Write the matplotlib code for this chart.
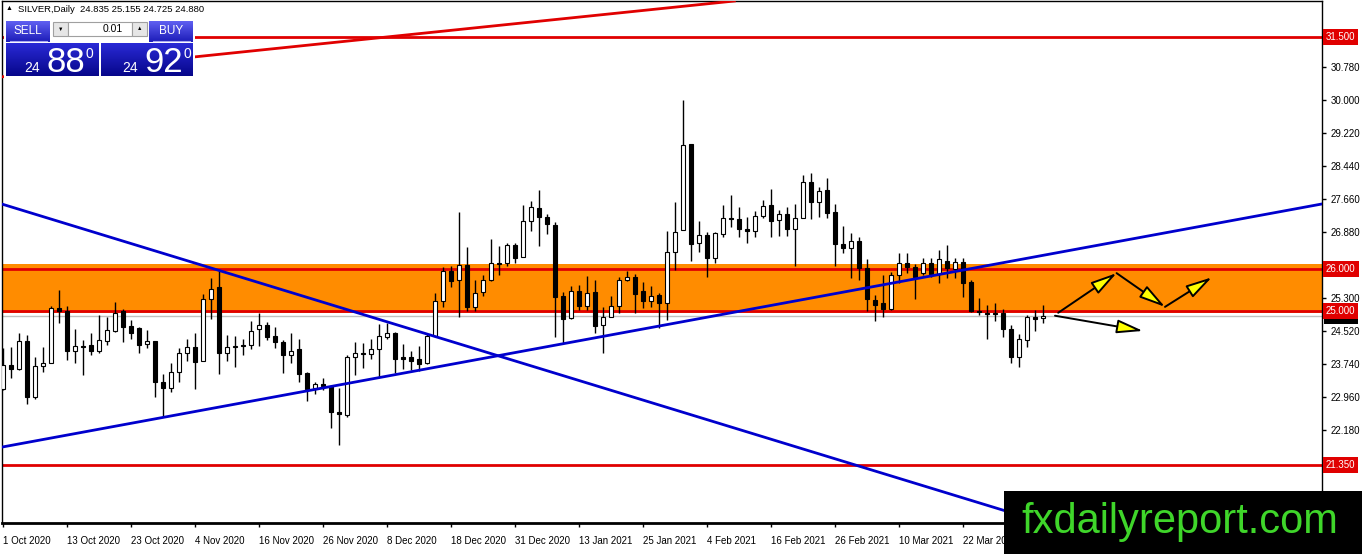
import numpy as np
import pandas as pd
import matplotlib
matplotlib.use('Agg')
import matplotlib.pyplot as plt
from matplotlib.patches import Rectangle, FancyArrowPatch
from matplotlib.colors import LinearSegmentedColormap

plt.rcParams['font.family'] = ['Liberation Sans', 'DejaVu Sans']

# daily OHLC, SILVER (1 Oct 2020 .. 5 Apr 2021)
opens = [23.15, 23.72, 23.63, 24.29, 22.96, 23.70, 23.77, 25.07, 25.00, 24.05,
         24.17, 24.20, 24.05, 24.29, 24.53, 25.00, 24.65, 24.60, 24.22, 24.29,
         23.32, 23.18, 23.56, 24.01, 24.15, 23.82, 25.29, 25.57, 24.01, 24.15,
         24.20, 24.20, 24.58, 24.67, 24.41, 24.27, 23.96, 24.10, 23.53, 23.18,
         23.27, 23.22, 22.61, 22.54, 23.91, 24.01, 23.98, 24.10, 24.39, 24.48,
         23.91, 23.91, 23.86, 23.77, 24.41, 25.24, 25.95, 25.74, 26.09, 25.10,
         25.45, 25.74, 26.14, 26.14, 26.57, 26.28, 27.14, 27.45, 27.23, 27.04,
         25.36, 24.84, 25.48, 25.12, 25.45, 24.67, 24.86, 25.12, 25.74, 25.81,
         25.48, 25.24, 25.38, 25.19, 26.40, 26.92, 28.96, 26.61, 26.80, 26.26,
         26.83, 27.21, 27.18, 26.95, 26.90, 27.25, 27.52, 27.16, 27.30, 26.95,
         27.21, 28.06, 27.59, 27.87, 27.35, 26.59, 26.50, 26.66, 26.02, 25.26,
         25.19, 25.05, 25.86, 26.14, 26.05, 25.90, 26.14, 25.88, 26.19, 26.00,
         26.16, 25.69, 25.00, 24.95, 24.95, 24.95, 24.58, 23.91, 24.31, 24.86,
         24.835]
highs = [24.13, 24.15, 24.48, 24.43, 23.91, 24.15, 25.12, 25.50, 25.12, 24.58,
         24.31, 24.48, 24.91, 24.86, 25.22, 25.05, 24.79, 24.62, 24.55, 24.29,
         23.51, 23.77, 24.13, 24.34, 24.48, 25.41, 25.78, 25.95, 24.43, 24.41,
         24.34, 24.77, 24.95, 24.74, 24.62, 24.31, 24.48, 24.34, 23.56, 23.32,
         23.41, 23.25, 23.18, 23.96, 24.27, 24.24, 24.34, 24.69, 24.72, 24.50,
         24.22, 24.05, 24.17, 24.46, 25.43, 26.05, 26.07, 27.35, 26.52, 25.74,
         25.86, 26.71, 26.54, 26.61, 26.61, 27.52, 27.61, 27.87, 27.30, 27.11,
         25.45, 25.60, 25.62, 25.83, 25.74, 25.10, 25.36, 25.81, 25.95, 25.88,
         25.69, 25.60, 25.43, 26.90, 27.59, 30.01, 28.96, 27.14, 26.88, 26.88,
         27.52, 27.75, 27.47, 27.23, 27.37, 27.63, 27.90, 27.40, 27.47, 27.54,
         28.23, 28.28, 27.94, 28.16, 27.54, 27.02, 26.85, 26.76, 26.24, 25.38,
         25.86, 25.93, 26.38, 26.38, 26.12, 26.26, 26.26, 26.45, 26.57, 26.26,
         26.26, 25.74, 25.31, 25.14, 25.19, 25.05, 24.67, 24.46, 24.91, 25.03,
         25.155]
lows = [23.13, 23.41, 23.60, 22.80, 22.91, 23.56, 23.77, 24.72, 23.84, 23.77,
        23.49, 23.96, 24.01, 24.20, 24.50, 24.27, 24.34, 24.01, 24.13, 22.96,
        22.49, 23.08, 23.32, 23.82, 23.15, 23.82, 24.81, 23.51, 23.82, 23.67,
        23.96, 24.10, 24.17, 24.31, 24.13, 23.53, 23.77, 23.32, 22.87, 23.03,
        23.13, 22.23, 21.82, 22.49, 23.49, 23.65, 23.86, 23.44, 24.34, 23.53,
        23.63, 23.60, 23.58, 23.75, 24.39, 25.10, 25.57, 24.86, 25.00, 25.00,
        25.36, 25.71, 25.86, 26.07, 26.14, 26.28, 26.90, 26.54, 26.83, 24.39,
        24.24, 24.81, 25.03, 25.03, 24.48, 24.01, 24.86, 24.95, 25.71, 24.95,
        25.07, 25.10, 24.60, 24.79, 25.97, 26.92, 26.19, 26.40, 25.81, 26.14,
        26.76, 26.99, 26.76, 26.61, 26.76, 27.21, 26.76, 26.78, 26.78, 26.07,
        27.21, 27.18, 27.23, 27.21, 26.07, 26.38, 25.78, 25.74, 25.00, 24.77,
        24.86, 25.03, 25.67, 25.90, 25.29, 25.86, 25.81, 25.67, 25.78, 25.78,
        25.33, 24.98, 24.91, 24.34, 24.77, 24.39, 23.77, 23.67, 24.15, 24.53,
        24.725]
closes = [23.72, 23.63, 24.29, 22.96, 23.70, 23.77, 25.07, 25.00, 24.05, 24.17,
          24.15, 24.05, 24.31, 24.55, 24.95, 24.62, 24.48, 24.20, 24.29, 23.32,
          23.18, 23.56, 24.01, 24.15, 23.79, 25.29, 25.52, 24.01, 24.15, 24.17,
          24.17, 24.53, 24.67, 24.39, 24.27, 23.96, 24.05, 23.51, 23.15, 23.27,
          23.22, 22.61, 22.56, 23.91, 24.01, 23.98, 24.10, 24.41, 24.48, 23.86,
          23.86, 23.82, 23.75, 24.41, 25.24, 25.95, 25.71, 26.09, 25.10, 25.43,
          25.74, 26.14, 26.12, 26.57, 26.26, 27.14, 27.47, 27.23, 27.07, 25.33,
          24.81, 25.48, 25.12, 25.43, 24.65, 24.86, 25.12, 25.74, 25.81, 25.41,
          25.24, 25.36, 25.19, 26.40, 26.88, 28.94, 26.59, 26.80, 26.26, 26.85,
          27.21, 27.18, 26.95, 26.90, 27.25, 27.49, 27.14, 27.30, 26.95, 27.21,
          28.06, 27.59, 27.85, 27.33, 26.59, 26.50, 26.66, 26.02, 25.29, 25.14,
          25.05, 25.86, 26.14, 26.05, 25.81, 26.14, 25.88, 26.24, 26.02, 26.16,
          25.67, 25.00, 24.98, 24.93, 24.93, 24.58, 23.91, 24.34, 24.86, 24.81,
          24.88]

dates = pd.bdate_range('2020-10-01', '2021-04-05', freq='C',
                       holidays=['2020-12-25', '2021-01-01'])

# chart objects
red_levels = [31.5, 26.0, 25.0, 21.35]
zone = (24.96, 26.12)
bid, ask = 24.880, 24.920
red_trend = [(-0.375, 30.55), (90.25, 32.33)]
blue_down = [(0, 27.53), (125, 20.28)]
blue_up = [(0, 21.78), (160, 27.37)]
arrows = [((131.9, 24.96), (139.2, 25.90)),
          ((139.2, 25.90), (145.25, 25.10)),
          ((145.25, 25.10), (151.1, 25.80)),
          ((131.5, 24.89), (142.5, 24.53))]
ytick_vals = [30.78, 30.0, 29.22, 28.44, 27.66, 26.88, 25.30, 24.52, 23.74, 22.96, 22.18]

W, H = 1362, 554
fig = plt.figure(figsize=(W / 100, H / 100), dpi=100)
ax = fig.add_axes([2 / W, (H - 523) / H, 1320 / W, 522 / H])
ax.set_xlim(-0.125, 164.875)
ax.set_ylim(19.975, 32.353)

ax.axhspan(zone[0], zone[1], color='#ff8c00', lw=0, zorder=1)
for lvl in red_levels:
    ax.axhline(lvl, color='#e00000', lw=2, zorder=2)
ax.axhline(bid, color='#c0c0c0', lw=1, zorder=2)

x = np.arange(len(opens))
for i in x:
    o, h, l, c = opens[i], highs[i], lows[i], closes[i]
    ax.vlines(i, l, h, color='black', lw=1, zorder=3)
    face = 'white' if c >= o else 'black'
    ax.add_patch(Rectangle((i - 0.3, min(o, c)), 0.6, abs(c - o),
                           fc=face, ec='black', lw=0.8, zorder=4))

ax.axline(red_trend[0], red_trend[1], color='#e00000', lw=2, zorder=5)
ax.axline(blue_down[0], blue_down[1], color='#0000cd', lw=2, zorder=5)
ax.axline(blue_up[0], blue_up[1], color='#0000cd', lw=2, zorder=5)

for a, b in arrows:
    ax.add_patch(FancyArrowPatch(a, b, arrowstyle='-|>,head_length=1.6,head_width=0.42',
                                 mutation_scale=10, fc='#ffff00', ec='black', lw=1.4,
                                 shrinkA=0, shrinkB=0, zorder=6))

ax.yaxis.tick_right()
ax.set_yticks(ytick_vals, [f'{v:.3f}' for v in ytick_vals])
ax.tick_params(axis='y', length=3, width=1, labelsize=7, pad=3)
ax.set_xticks(x[::8], [f'{d.day} {d:%b %Y}' for d in dates[::8]])
ax.tick_params(axis='x', length=3, width=1, labelsize=7, pad=6)
for lab in ax.get_xticklabels():
    lab.set_ha('left')
for s in ax.spines.values():
    s.set_linewidth(1)
ax.spines['bottom'].set_linewidth(2)

ytr = ax.get_yaxis_transform()
ax.text(1.003, bid, f'{bid:.3f}', transform=ytr, color='white', fontsize=7, va='center',
        bbox=dict(boxstyle='square,pad=0.25', fc='black', ec='none'), zorder=9, clip_on=False)
for lvl in red_levels:
    ax.text(1.003, lvl, f'{lvl:.3f}', transform=ytr, color='white', fontsize=7, va='center',
            bbox=dict(boxstyle='square,pad=0.3', fc='#e00000', ec='none'), zorder=10, clip_on=False)

# overlay in pixel coordinates: header, trade panel, watermark
ov = fig.add_axes([0, 0, 1, 1])
ov.axis('off')
ov.patch.set_alpha(0)


def grad(x0, y0, x1, y1, top, bot):
    cm = LinearSegmentedColormap.from_list('g', [top, bot])
    ov.imshow(np.linspace(0, 1, 64).reshape(-1, 1), cmap=cm, extent=(x0, x1, y1, y0),
              aspect='auto', zorder=2)


ov.text(6, 9, '\u25b2', fontsize=5, va='center')
ov.text(18, 9, f'SILVER,Daily  {opens[-1]:.3f} {highs[-1]:.3f} {lows[-1]:.3f} {closes[-1]:.3f}',
        fontsize=6.8, va='center')

ov.add_patch(Rectangle((4, 19), 191, 59, fc='white', ec='none', zorder=1))
grad(6, 21, 50, 42, '#6060f2', '#1c1cb8')
grad(149, 21, 193, 42, '#6060f2', '#1c1cb8')
grad(6, 43, 99, 76, '#2a2ad6', '#06068a')
grad(101, 43, 193, 76, '#2a2ad6', '#06068a')
ov.plot([10, 47], [40.5, 40.5], color='#a8a8f0', lw=0.8, zorder=3)
ov.plot([153, 190], [40.5, 40.5], color='#a8a8f0', lw=0.8, zorder=3)
ov.text(28, 31, 'SELL', color='white', fontsize=8.5, ha='center', va='center', zorder=4)
ov.text(171, 31, 'BUY', color='white', fontsize=8.5, ha='center', va='center', zorder=4)
ov.add_patch(Rectangle((53, 22), 15, 14, fc='#e6e6e6', ec='#a0a0a0', lw=0.8, zorder=3))
ov.add_patch(Rectangle((68, 22), 64, 14, fc='white', ec='#a0a0a0', lw=0.8, zorder=3))
ov.add_patch(Rectangle((132, 22), 15, 14, fc='#e6e6e6', ec='#a0a0a0', lw=0.8, zorder=3))
ov.text(60.5, 29, '\u25bc', fontsize=4, ha='center', va='center', zorder=4)
ov.text(139.5, 29, '\u25b2', fontsize=4, ha='center', va='center', zorder=4)
ov.text(123, 29.5, '0.01', fontsize=7.5, ha='right', va='center', zorder=4)

for x0, price in [(24, bid), (122, ask)]:
    s = f'{price:.3f}'
    ov.text(x0, 72, s[:2], color='white', fontsize=10, va='baseline', zorder=4)
    ov.text(x0 + 22, 72, s[3:5], color='white', fontsize=25, va='baseline', zorder=4)
    ov.text(x0 + 62, 58, s[5], color='white', fontsize=10, va='baseline', zorder=4)

ov.add_patch(Rectangle((1004, 491), 358, 63, fc='black', ec='none', zorder=20))
ov.text(1021, 533, 'fxdailyreport.com', color='#3fd62a', fontsize=30,
        va='baseline', ha='left', zorder=21)

ov.set_xlim(0, W)
ov.set_ylim(H, 0)

fig.savefig('out.png', dpi=100)
